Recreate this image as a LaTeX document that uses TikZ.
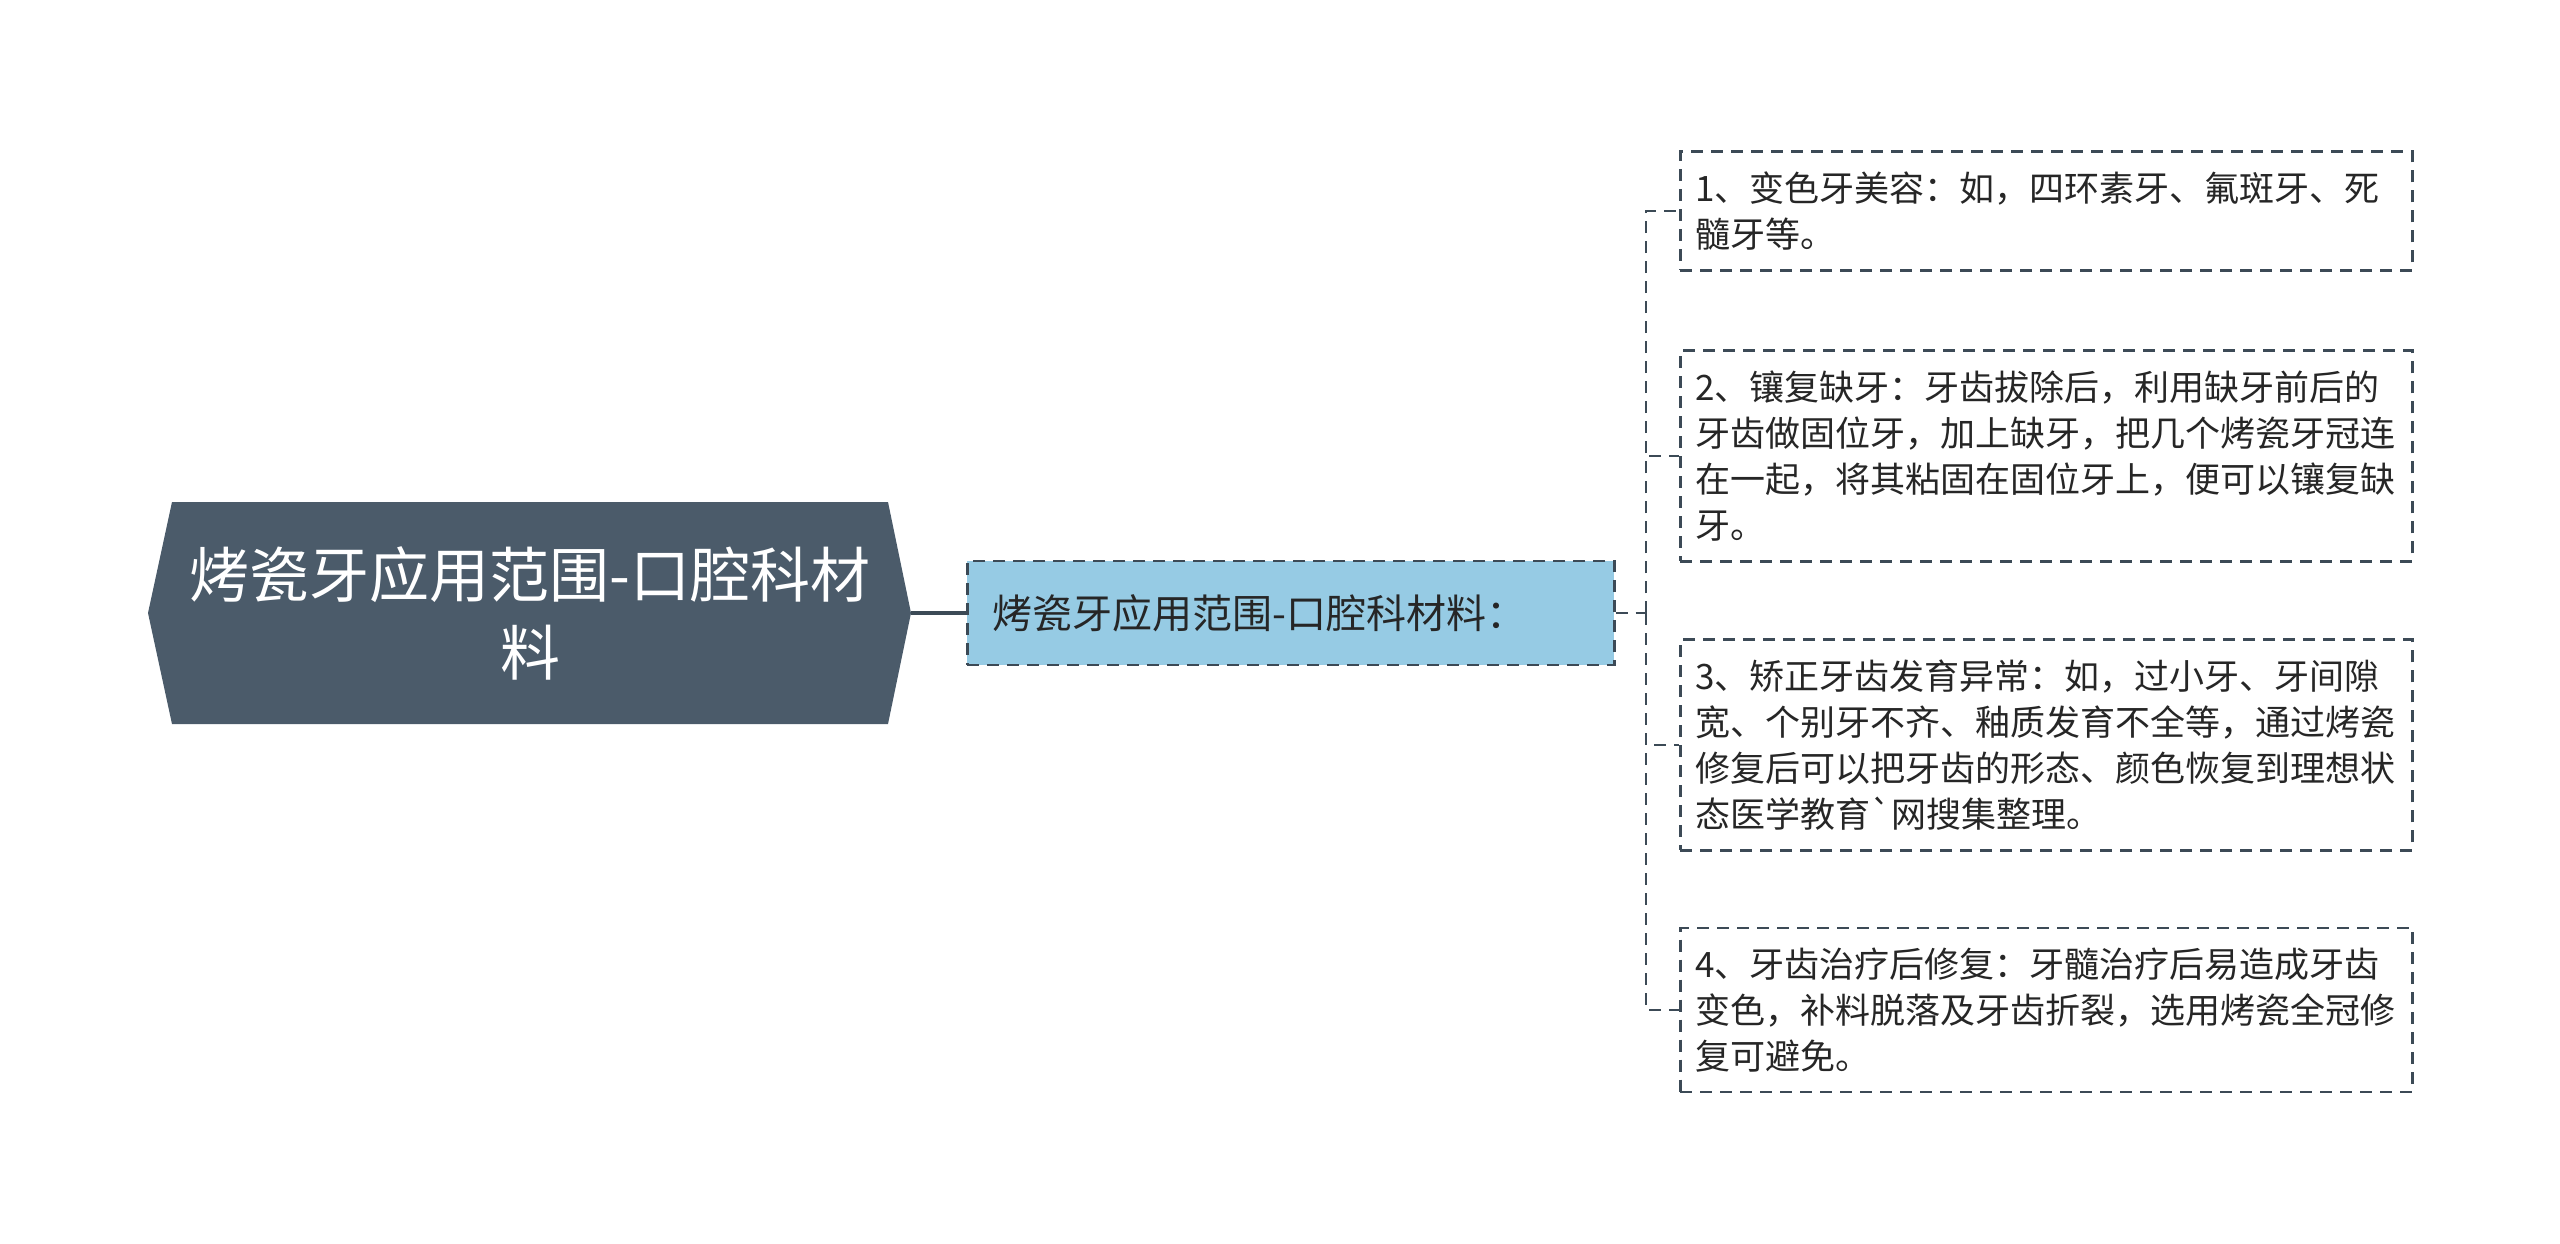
\documentclass[tikz,border=0pt]{standalone}
\usepackage{fontspec}
\setmainfont{Noto Sans CJK SC}
\newfontfamily\plaincjk{Noto Sans CJK SC}
\definecolor{rootfill}{HTML}{4B5B6A}
\definecolor{subfill}{HTML}{96CBE4}
\definecolor{linecol}{HTML}{3C4A56}
\definecolor{textcol}{HTML}{262626}
\tikzset{
  dashline/.style={draw=linecol,line width=2.5pt,dash pattern=on 12pt off 8pt},
  leafbox/.style={dashline,anchor=west,text width=702pt,inner xsep=15pt,inner ysep=20pt,
    align=left,text=textcol,font=\fontsize{35pt}{46pt}\selectfont},
}
\begin{document}
\begin{tikzpicture}[x=1pt,y=-1pt]
\useasboundingbox (0,0) rectangle (2560,1243);
\fill[rootfill] (148,613) -- (172,502) -- (888,502) -- (911,613) -- (888,724) -- (172,724) -- cycle;
\coordinate (roottip) at (911,613);
\node[inner sep=0pt,align=center,text=white,font=\fontsize{60pt}{78pt}\selectfont] (root) at (530,613)
  {烤瓷牙应用范围-口腔科材\\料};
\node[dashline,fill=subfill,anchor=west,text width=597pt,inner xsep=25pt,minimum height=104pt,
  text=textcol,font=\fontsize{40pt}{48pt}\selectfont] (sub) at (966,613) {烤瓷牙应用范围-口腔科材料：};
\foreach \n/\y/\t in {
  1/211/{1、变色牙美容：如，四环素牙、氟斑牙、死\\髓牙等。},
  2/456/{2、镶复缺牙：牙齿拔除后，利用缺牙前后的\\牙齿做固位牙，加上缺牙，把几个烤瓷牙冠连\\在一起，将其粘固在固位牙上，便可以镶复缺\\牙。},
  3/745/{3、矫正牙齿发育异常：如，过小牙、牙间隙\\宽、个别牙不齐、釉质发育不全等，通过烤瓷\\修复后可以把牙齿的形态、颜色恢复到理想状\\态医学教育{\plaincjk`}网搜集整理。},
  4/1010/{4、牙齿治疗后修复：牙髓治疗后易造成牙齿\\变色，补料脱落及牙齿折裂，选用烤瓷全冠修\\复可避免。}%
}
\draw (1679,\y) node[leafbox] (leaf\n) {\t};
\draw[draw=linecol,line width=4pt] (roottip) -- (sub);
\coordinate (fork) at (1646,613);
\draw[dashline] (sub) -- (fork);
\foreach \n in {1,...,4}
  \draw[dashline] (fork) |- (leaf\n);
\end{tikzpicture}
\end{document}
